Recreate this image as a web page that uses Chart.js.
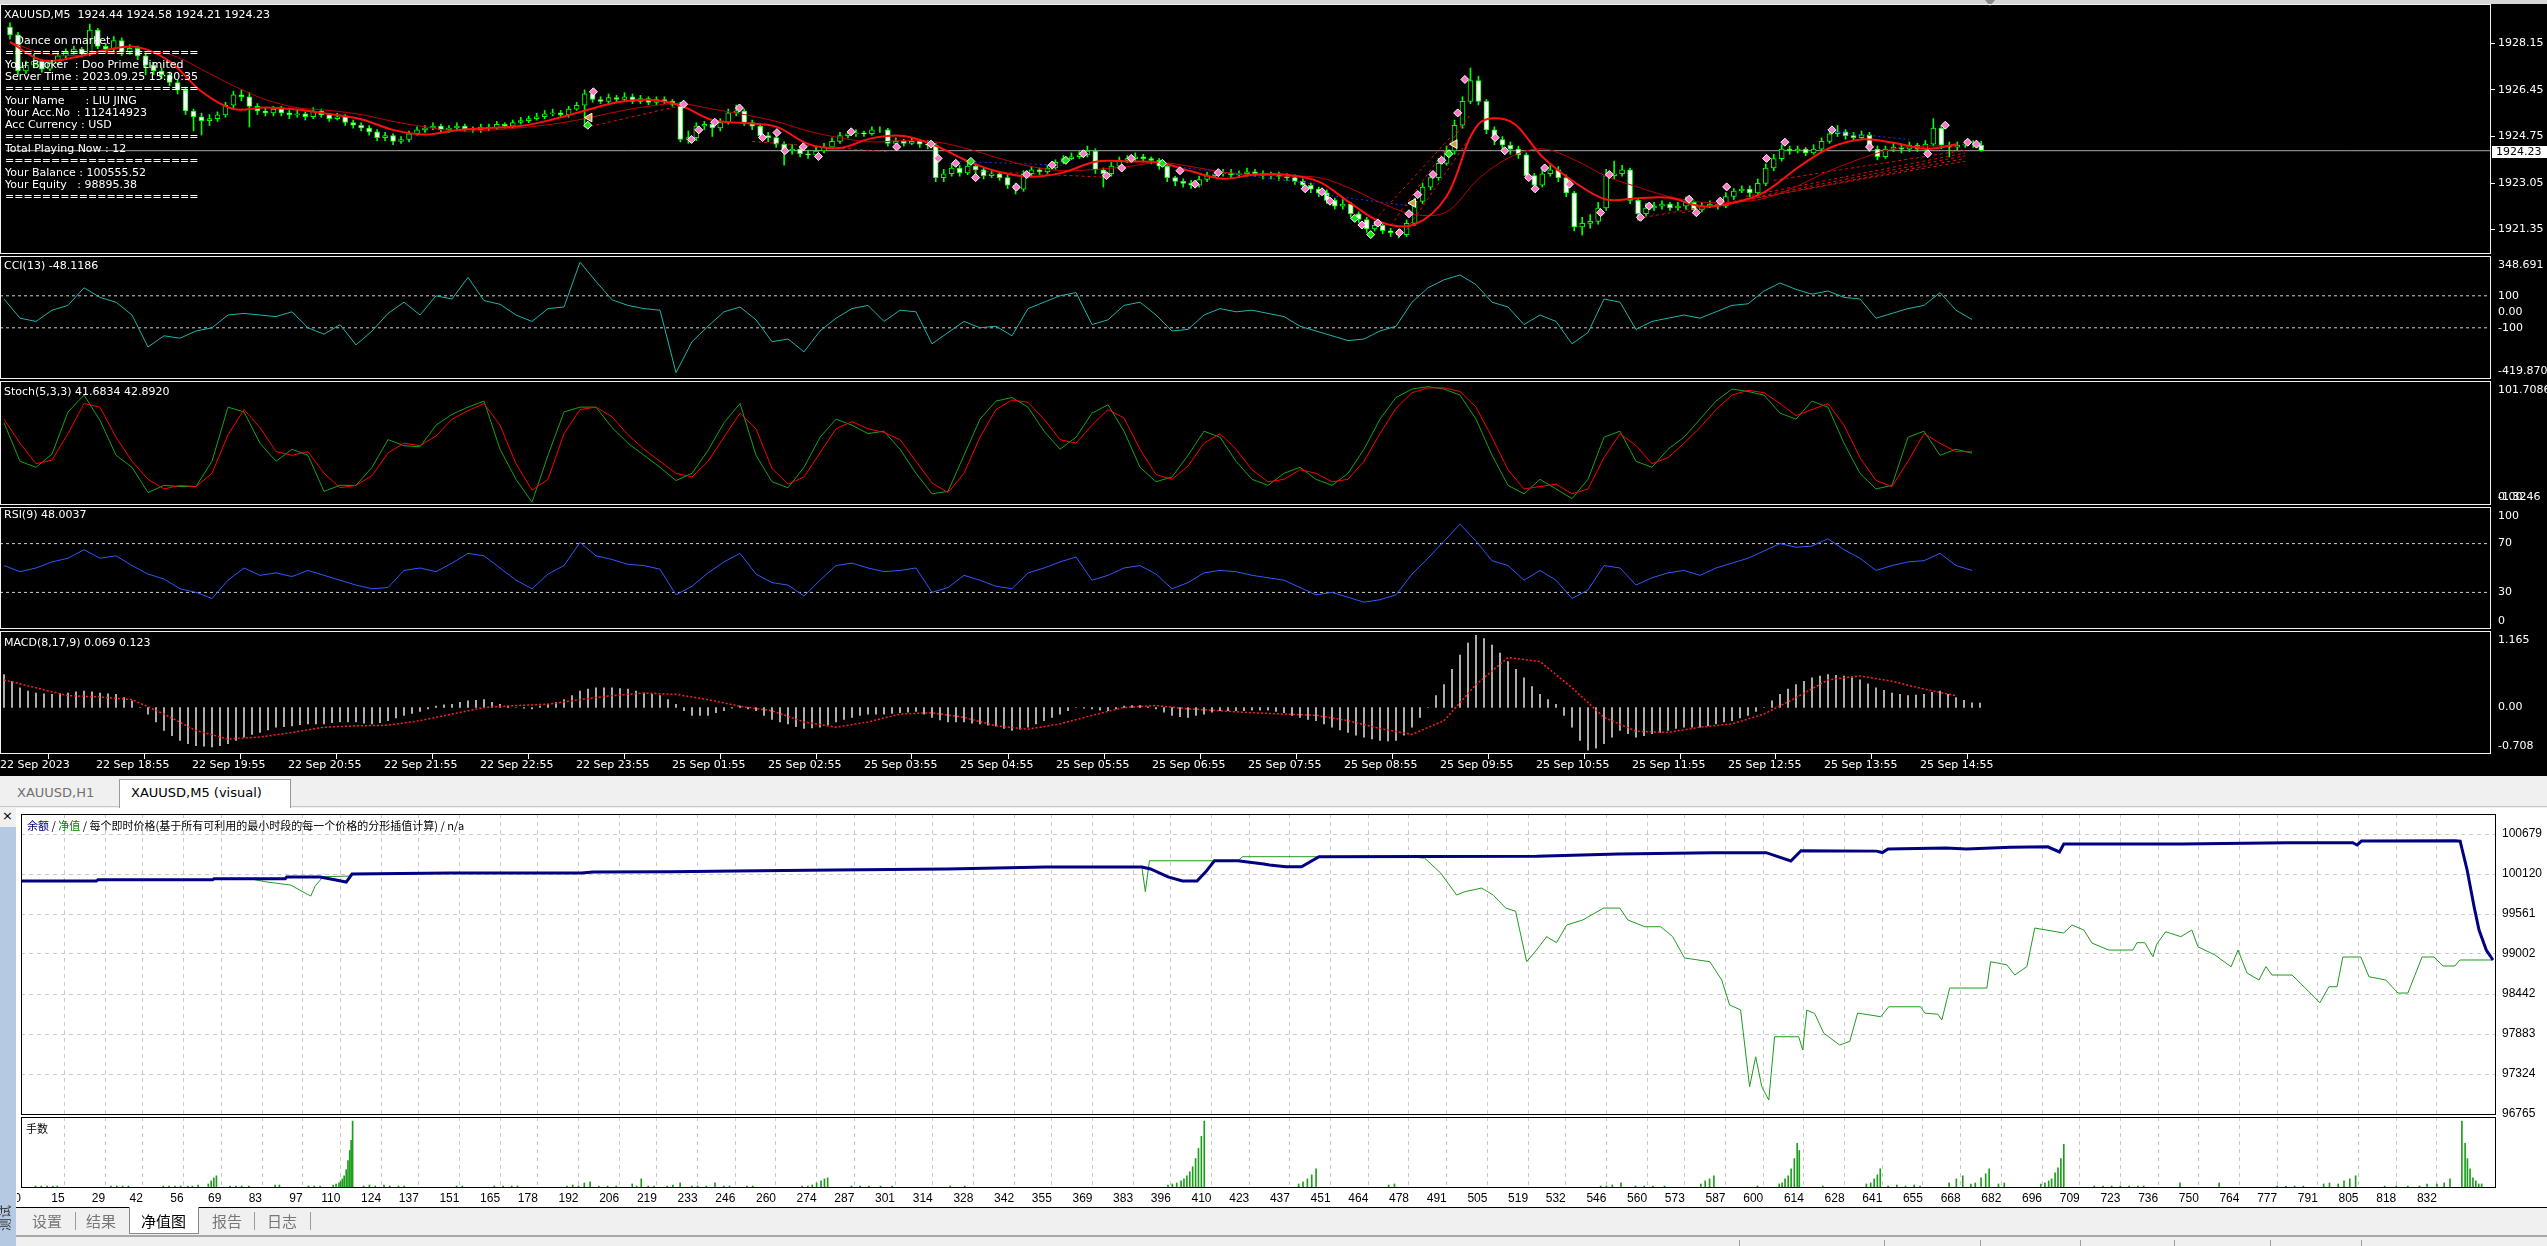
<!DOCTYPE html>
<html>
<head>
<meta charset="utf-8">
<title>XAUUSD,M5 (visual)</title>
<script src="https://cdn.jsdelivr.net/npm/chart.js@4.4.1/dist/chart.umd.min.js"></script>
<style>
  html, body { margin: 0; padding: 0; }
  body { width: 2547px; height: 1246px; overflow: hidden; position: relative; background: #f0f0f0; font-family: 'DejaVu Sans', sans-serif; }
  .box { position: absolute; box-sizing: border-box; }
  canvas { position: absolute; display: block; }
  .frame { position: absolute; box-sizing: border-box; border: 1px solid #f2f2f2; pointer-events: none; }
  .tframe { position: absolute; box-sizing: border-box; border: 1px solid #000; pointer-events: none; }
  .wtxt { position: absolute; color: #fff; font-size: 11px; line-height: 12px; white-space: pre; }
  .tab { position: absolute; font-size: 13px; line-height: 16px; white-space: pre; }
  .cjk { position: absolute; font-family: 'Noto Sans CJK SC', sans-serif; white-space: pre; }
</style>
</head>
<body>
<div class="box" style="left:0;top:0;width:2547px;height:776px;background:#000"></div>
<div class="box" style="left:0;top:0;width:2547px;height:4px;background:#d6d6d6"></div>
<div class="box" style="left:1985px;top:0;width:0;height:0;border-left:5px solid transparent;border-right:5px solid transparent;border-top:6px solid #8a8a8a"></div>
<div class="box" style="left:0;top:776px;width:2547px;height:31px;background:#f0f0f0;border-bottom:1px solid #c8c8c8"></div>
<div class="box" style="left:16px;top:808px;width:2531px;height:399px;background:#fff"></div>
<div class="box" style="left:0;top:827px;width:16px;height:419px;background:#b6c9e3"></div>

<div id="charts"></div>

<!-- pane frames of the terminal window -->
<div class="frame" style="left:0;top:4px;width:2491px;height:250px"></div>
<div class="frame" style="left:0;top:256px;width:2491px;height:123px"></div>
<div class="frame" style="left:0;top:381px;width:2491px;height:124px"></div>
<div class="frame" style="left:0;top:507px;width:2491px;height:122px"></div>
<div class="frame" style="left:0;top:631px;width:2491px;height:123px"></div>

<div class="wtxt" style="left:4px;top:9px">XAUUSD,M5  1924.44 1924.58 1924.21 1924.23</div>
<div class="wtxt" style="left:5px;top:35px">   Dance on market
=====================
Your Broker  : Doo Prime Limited
Server Time : 2023.09.25 15:30:35
=====================
Your Name      : LIU JING
Your Acc.No  : 112414923
Acc Currency : USD
=====================
Total Playing Now : 12
=====================
Your Balance : 100555.52
Your Equity   : 98895.38
=====================</div>
<div class="wtxt" style="left:4px;top:260px">CCI(13) -48.1186</div>
<div class="wtxt" style="left:4px;top:386px">Stoch(5,3,3) 41.6834 42.8920</div>
<div class="wtxt" style="left:4px;top:509px">RSI(9) 48.0037</div>
<div class="wtxt" style="left:4px;top:637px">MACD(8,17,9) 0.069 0.123</div>
<div class="box" style="left:2492px;top:146px;width:55px;height:12px;background:#fff;color:#000;font-size:11px;line-height:12px;padding-left:4px">1924.23</div>

<!-- tabs of the chart windows -->
<div class="tab" style="left:17px;top:785px;color:#707070">XAUUSD,H1</div>
<div class="box" style="left:119px;top:779px;width:172px;height:29px;background:#fff;border:1px solid #9a9a9a;border-bottom:none"></div>
<div class="tab" style="left:131px;top:785px;color:#000">XAUUSD,M5 (visual)</div>

<!-- tester graph -->
<div class="tframe" style="left:21px;top:814px;width:2475px;height:301px"></div>
<div class="tframe" style="left:21px;top:1117px;width:2475px;height:71px"></div>
<div class="cjk" style="left:27px;top:818px;font-size:11px;line-height:15px;color:#000"><span style="color:#000080">余额</span> / <span style="color:#008000">净值</span> / 每个即时价格(基于所有可利用的最小时段的每一个价格的分形插值计算) / n/a</div>
<div class="cjk" style="left:26px;top:1121px;font-size:11px;line-height:15px;color:#000">手数</div>
<div class="box" style="left:2px;top:808px;font-size:13px;line-height:16px;color:#000">×</div>
<div class="box" style="left:16px;top:1207px;width:2531px;height:1px;background:#000"></div>

<!-- bottom tabs -->
<div class="box" style="left:129px;top:1207px;width:70px;height:27px;background:#fff;border:1px solid #8a8a8a;border-top:none"></div>
<div class="cjk" style="left:32px;top:1212px;font-size:15px;line-height:18px;color:#777">设置</div>
<div class="box" style="left:75px;top:1212px;width:1px;height:18px;background:#9a9a9a"></div>
<div class="cjk" style="left:86px;top:1212px;font-size:15px;line-height:18px;color:#777">结果</div>
<div class="cjk" style="left:141px;top:1212px;font-size:15px;line-height:18px;color:#000">净值图</div>
<div class="cjk" style="left:212px;top:1212px;font-size:15px;line-height:18px;color:#777">报告</div>
<div class="box" style="left:254px;top:1212px;width:1px;height:18px;background:#9a9a9a"></div>
<div class="cjk" style="left:267px;top:1212px;font-size:15px;line-height:18px;color:#777">日志</div>
<div class="box" style="left:310px;top:1212px;width:1px;height:18px;background:#9a9a9a"></div>
<div class="cjk" style="left:-4px;top:1207px;font-size:13px;line-height:16px;color:#333;transform:rotate(-90deg);transform-origin:12px 12px">测试</div>
<div class="box" style="left:16px;top:1235px;width:2531px;height:2px;background:#a8a8a8"></div>
<div class="box" style="left:1739px;top:1240px;width:1px;height:6px;background:#a0a0a0"></div>
<div class="box" style="left:1884px;top:1240px;width:1px;height:6px;background:#a0a0a0"></div>
<div class="box" style="left:1980px;top:1240px;width:1px;height:6px;background:#a0a0a0"></div>
<div class="box" style="left:2080px;top:1240px;width:1px;height:6px;background:#a0a0a0"></div>
<div class="box" style="left:2174px;top:1240px;width:1px;height:6px;background:#a0a0a0"></div>
<div class="box" style="left:2270px;top:1240px;width:1px;height:6px;background:#a0a0a0"></div>
<div class="box" style="left:2361px;top:1240px;width:1px;height:6px;background:#a0a0a0"></div>

<script>
// ---------- XAUUSD M5 candles, one value per bar ----------
const candleOpen = [
  1928.74,1928.46,1927.14,1927.35,1927.49,1927.21,1927.42,1927.69,1927.83,1927.94,
  1927.76,1928.63,1928.04,1927.94,1928.25,1927.83,1927.97,1927.69,1927.35,1927.14,
  1927.00,1926.72,1926.44,1925.68,1925.47,1925.33,1925.40,1925.54,1925.89,1926.27,
  1926.20,1925.85,1925.68,1925.61,1925.75,1925.61,1925.54,1925.58,1925.47,1925.68,
  1925.54,1925.40,1925.47,1925.26,1925.16,1925.06,1924.92,1924.71,1924.78,1924.57,
  1924.64,1924.85,1924.99,1925.06,1925.13,1924.99,1925.06,1925.13,1925.02,1924.99,
  1925.09,1925.06,1925.19,1925.13,1925.26,1925.33,1925.40,1925.47,1925.58,1925.61,
  1925.54,1925.75,1925.89,1926.31,1926.10,1926.03,1926.17,1926.10,1926.20,1926.03,
  1926.13,1925.99,1926.10,1926.03,1925.92,1924.64,1924.71,1925.13,1925.19,1925.06,
  1925.26,1925.61,1925.68,1925.26,1925.13,1924.78,1924.71,1924.47,1924.22,1924.29,
  1924.12,1924.08,1924.22,1924.36,1924.57,1924.78,1924.85,1924.88,1924.85,1924.99,
  1924.99,1924.50,1924.57,1924.50,1924.57,1924.47,1924.43,1923.25,1923.39,1923.60,
  1923.42,1923.67,1923.53,1923.32,1923.39,1923.25,1922.97,1922.83,1923.39,1923.53,
  1923.46,1923.60,1923.81,1923.94,1924.01,1924.08,1924.22,1923.53,1923.39,1923.67,
  1923.88,1923.94,1924.01,1923.94,1923.88,1923.67,1923.25,1923.11,1923.04,1922.97,
  1923.18,1923.32,1923.39,1923.42,1923.35,1923.39,1923.46,1923.39,1923.32,1923.35,
  1923.29,1923.25,1923.11,1922.97,1922.83,1922.69,1922.42,1922.21,1922.28,1921.93,
  1921.72,1921.38,1921.51,1921.31,1921.24,1921.17,1921.58,1922.38,1922.90,1923.25,
  1923.77,1924.22,1925.16,1926.03,1926.79,1926.03,1924.99,1924.64,1924.43,1924.29,
  1924.08,1923.32,1922.97,1923.39,1923.53,1923.25,1922.69,1921.45,1921.58,1921.65,
  1922.14,1923.32,1923.39,1923.53,1922.42,1921.93,1922.14,1922.21,1922.28,1922.14,
  1922.21,1922.35,1922.07,1922.21,1922.28,1922.21,1922.56,1922.76,1922.83,1922.69,
  1923.04,1923.60,1923.94,1924.29,1924.22,1924.29,1924.15,1924.29,1924.57,1924.85,
  1924.92,1924.78,1924.71,1924.81,1924.29,1924.01,1924.29,1924.36,1924.29,1924.43,
  1924.29,1924.47,1925.06,1924.43,1924.36,1924.43,1924.47,1924.44
];
const candleHigh = [
  1928.90,1928.55,1927.50,1927.75,1927.55,1927.50,1927.80,1927.95,1928.05,1928.00,
  1928.85,1928.70,1928.15,1928.40,1928.35,1928.10,1928.05,1927.80,1927.45,1927.25,
  1927.10,1926.80,1926.55,1925.75,1925.60,1925.55,1925.65,1926.00,1926.40,1926.45,
  1926.35,1925.95,1925.80,1925.85,1925.85,1925.70,1925.70,1925.65,1925.80,1925.75,
  1925.60,1925.60,1925.55,1925.35,1925.25,1925.15,1925.00,1924.90,1924.85,1924.75,
  1924.95,1925.10,1925.15,1925.25,1925.20,1925.15,1925.25,1925.20,1925.10,1925.20,
  1925.20,1925.30,1925.25,1925.35,1925.45,1925.50,1925.60,1925.70,1925.75,1925.70,
  1925.85,1926.00,1926.45,1926.40,1926.20,1926.30,1926.25,1926.35,1926.30,1926.25,
  1926.20,1926.20,1926.20,1926.10,1926.00,1924.95,1925.25,1925.30,1925.30,1925.40,
  1925.75,1925.90,1925.75,1925.35,1925.20,1924.90,1924.80,1924.55,1924.45,1924.40,
  1924.25,1924.35,1924.50,1924.70,1924.90,1924.95,1925.00,1924.95,1925.10,1925.10,
  1925.05,1924.70,1924.65,1924.70,1924.65,1924.60,1924.50,1923.55,1923.75,1923.70,
  1923.80,1923.75,1923.60,1923.50,1923.45,1923.35,1923.05,1923.50,1923.65,1923.60,
  1923.70,1923.90,1924.05,1924.15,1924.20,1924.40,1924.30,1923.60,1923.80,1924.00,
  1924.05,1924.15,1924.10,1924.00,1923.95,1923.75,1923.30,1923.20,1923.15,1923.30,
  1923.45,1923.50,1923.55,1923.55,1923.50,1923.60,1923.55,1923.50,1923.45,1923.45,
  1923.40,1923.35,1923.20,1923.05,1922.90,1922.80,1922.50,1922.45,1922.35,1922.00,
  1921.80,1921.65,1921.60,1921.40,1921.35,1921.70,1922.50,1923.05,1923.40,1923.95,
  1924.40,1925.35,1926.20,1927.25,1926.95,1926.10,1925.10,1924.75,1924.55,1924.40,
  1924.15,1923.40,1923.55,1923.70,1923.65,1923.35,1922.75,1921.80,1921.90,1922.35,
  1923.55,1923.85,1923.70,1923.60,1922.50,1922.30,1922.35,1922.40,1922.35,1922.35,
  1922.55,1922.40,1922.35,1922.40,1922.40,1922.70,1922.85,1922.95,1922.95,1923.20,
  1923.75,1924.10,1924.45,1924.40,1924.40,1924.35,1924.45,1924.70,1925.00,1925.15,
  1925.00,1924.90,1924.95,1924.90,1924.40,1924.40,1924.50,1924.45,1924.55,1924.50,
  1924.60,1925.40,1925.15,1924.55,1924.55,1924.60,1924.60,1924.58
];
const candleLow = [
  1928.30,1927.00,1927.05,1927.25,1927.10,1927.15,1927.35,1927.60,1927.75,1927.65,
  1927.70,1927.95,1927.80,1927.85,1927.70,1927.75,1927.55,1927.00,1927.00,1926.85,
  1926.60,1926.30,1925.55,1924.95,1924.80,1925.15,1925.30,1925.45,1925.80,1926.05,
  1925.10,1925.55,1925.50,1925.50,1925.50,1925.40,1925.45,1925.35,1925.40,1925.45,
  1925.30,1925.35,1925.15,1925.05,1924.95,1924.80,1924.60,1924.60,1924.45,1924.50,
  1924.55,1924.80,1924.90,1925.00,1924.90,1924.90,1925.00,1924.95,1924.90,1924.90,
  1924.95,1925.00,1925.05,1925.05,1925.20,1925.25,1925.35,1925.40,1925.50,1925.45,
  1925.45,1925.70,1925.10,1926.00,1925.95,1925.95,1926.00,1926.05,1925.95,1925.95,
  1925.90,1925.90,1925.95,1925.85,1924.55,1924.50,1924.60,1925.00,1924.75,1924.95,
  1925.20,1925.50,1925.15,1925.00,1924.65,1924.55,1924.35,1923.70,1924.10,1924.00,
  1923.95,1924.00,1924.15,1924.30,1924.50,1924.70,1924.75,1924.75,1924.80,1924.90,
  1924.40,1924.40,1924.40,1924.45,1924.35,1924.30,1923.10,1923.10,1923.30,1923.30,
  1923.35,1923.40,1923.20,1923.25,1923.15,1922.85,1922.65,1922.75,1923.30,1923.35,
  1923.40,1923.55,1923.75,1923.90,1923.95,1924.00,1923.40,1922.90,1923.30,1923.60,
  1923.80,1923.85,1923.85,1923.75,1923.55,1923.10,1922.95,1922.90,1922.85,1922.90,
  1923.10,1923.25,1923.30,1923.25,1923.25,1923.30,1923.30,1923.20,1923.20,1923.15,
  1923.15,1923.00,1922.85,1922.70,1922.55,1922.30,1922.10,1922.10,1921.80,1921.60,
  1921.25,1921.30,1921.20,1921.10,1921.05,1921.10,1921.50,1922.30,1922.80,1923.15,
  1923.70,1924.10,1925.05,1925.95,1925.90,1924.85,1924.45,1924.25,1924.10,1923.95,
  1923.20,1922.80,1922.90,1923.30,1923.10,1922.55,1921.30,1921.15,1921.40,1921.55,
  1922.05,1923.20,1923.30,1922.30,1921.70,1921.85,1922.05,1922.10,1922.05,1922.05,
  1922.10,1921.95,1922.00,1922.15,1922.10,1922.15,1922.45,1922.70,1922.55,1922.60,
  1922.95,1923.50,1923.85,1924.10,1924.15,1924.05,1924.10,1924.20,1924.50,1924.75,
  1924.65,1924.60,1924.65,1924.20,1923.90,1923.95,1924.20,1924.15,1924.20,1924.20,
  1924.20,1924.40,1924.30,1924.00,1924.25,1924.35,1924.35,1924.21
];
const candleClose = [
  1928.46,1927.14,1927.35,1927.49,1927.21,1927.42,1927.69,1927.83,1927.94,1927.76,
  1928.63,1928.04,1927.94,1928.25,1927.83,1927.97,1927.69,1927.35,1927.14,1927.00,
  1926.72,1926.44,1925.68,1925.47,1925.33,1925.40,1925.54,1925.89,1926.27,1926.20,
  1925.85,1925.68,1925.61,1925.75,1925.61,1925.54,1925.58,1925.47,1925.68,1925.54,
  1925.40,1925.47,1925.26,1925.16,1925.06,1924.92,1924.71,1924.78,1924.57,1924.64,
  1924.85,1924.99,1925.06,1925.13,1924.99,1925.06,1925.13,1925.02,1924.99,1925.09,
  1925.06,1925.19,1925.13,1925.26,1925.33,1925.40,1925.47,1925.58,1925.61,1925.54,
  1925.75,1925.89,1926.31,1926.10,1926.03,1926.17,1926.10,1926.20,1926.03,1926.13,
  1925.99,1926.10,1926.03,1925.92,1924.64,1924.71,1925.13,1925.19,1925.06,1925.26,
  1925.61,1925.68,1925.26,1925.13,1924.78,1924.71,1924.47,1924.22,1924.29,1924.12,
  1924.08,1924.22,1924.36,1924.57,1924.78,1924.85,1924.88,1924.85,1924.99,1924.99,
  1924.50,1924.57,1924.50,1924.57,1924.47,1924.43,1923.25,1923.39,1923.60,1923.42,
  1923.67,1923.53,1923.32,1923.39,1923.25,1922.97,1922.83,1923.39,1923.53,1923.46,
  1923.60,1923.81,1923.94,1924.01,1924.08,1924.22,1923.53,1923.39,1923.67,1923.88,
  1923.94,1924.01,1923.94,1923.88,1923.67,1923.25,1923.11,1923.04,1922.97,1923.18,
  1923.32,1923.39,1923.42,1923.35,1923.39,1923.46,1923.39,1923.32,1923.35,1923.29,
  1923.25,1923.11,1922.97,1922.83,1922.69,1922.42,1922.21,1922.28,1921.93,1921.72,
  1921.38,1921.51,1921.31,1921.24,1921.17,1921.58,1922.38,1922.90,1923.25,1923.77,
  1924.22,1925.16,1926.03,1926.79,1926.03,1924.99,1924.64,1924.43,1924.29,1924.08,
  1923.32,1922.97,1923.39,1923.53,1923.25,1922.69,1921.45,1921.58,1921.65,1922.14,
  1923.32,1923.39,1923.53,1922.42,1921.93,1922.14,1922.21,1922.28,1922.14,1922.21,
  1922.35,1922.07,1922.21,1922.28,1922.21,1922.56,1922.76,1922.83,1922.69,1923.04,
  1923.60,1923.94,1924.29,1924.22,1924.29,1924.15,1924.29,1924.57,1924.85,1924.92,
  1924.78,1924.71,1924.81,1924.29,1924.01,1924.29,1924.36,1924.29,1924.43,1924.29,
  1924.47,1925.06,1924.43,1924.36,1924.43,1924.47,1924.47,1924.23
];
const timeLabels = ['22 Sep 2023','22 Sep 18:55','22 Sep 19:55','22 Sep 20:55','22 Sep 21:55','22 Sep 22:55','22 Sep 23:55',
  '25 Sep 01:55','25 Sep 02:55','25 Sep 03:55','25 Sep 04:55','25 Sep 05:55','25 Sep 06:55','25 Sep 07:55','25 Sep 08:55',
  '25 Sep 09:55','25 Sep 10:55','25 Sep 11:55','25 Sep 12:55','25 Sep 13:55','25 Sep 14:55'];
const barsPerLabel = 12;

// moving averages on the price chart, one value every 4 bars
const maStep = 4;
const maFast = [
  1928.20,1927.53,1927.63,1927.91,1928.01,1927.49,1926.39,1925.75,1925.81,1925.73,
  1925.57,1925.38,1924.99,1924.82,1924.98,1925.06,1925.13,1925.37,1925.69,1925.99,
  1926.09,1925.88,1925.35,1925.24,1925.11,1924.48,1924.33,1924.69,1924.77,1924.41,
  1923.85,1923.45,1923.28,1923.44,1923.83,1923.84,1923.80,1923.48,1923.21,1923.36,
  1923.35,1923.10,1922.31,1921.60,1921.54,1922.56,1925.20,1925.30,1924.01,1923.09,
  1922.45,1922.50,1922.51,1922.20,1922.33,1922.75,1923.61,1924.33,1924.64,1924.52,
  1924.30,1924.47
];
const maSlow = [
  1928.20,1927.80,1927.70,1927.80,1927.85,1927.75,1927.20,1926.60,1926.10,1925.80,
  1925.70,1925.55,1925.30,1925.10,1924.95,1924.98,1925.07,1925.20,1925.40,1925.65,
  1925.85,1925.95,1925.75,1925.55,1925.30,1924.95,1924.70,1924.55,1924.60,1924.55,
  1924.30,1923.95,1923.65,1923.50,1923.55,1923.65,1923.80,1923.65,1923.45,1923.35,
  1923.30,1923.25,1922.85,1922.30,1921.90,1922.00,1923.20,1924.00,1924.30,1923.90,
  1923.30,1922.90,1922.55,1922.35,1922.35,1922.50,1922.95,1923.50,1923.95,1924.30,
  1924.40,1924.40
];

// trade arrows drawn by the EA (bar index, price)
const pinkArrowBar = [73.1,84.4,85.4,86.3,88.3,91.4,94.3,96.1,97.1,99.4,101.3,105.4,111.1,115.4,116.3,118.5,121,126.1,127.4,130.6,
  134.5,137.4,139.3,140.5,146.6,148.5,151.4,162.3,164.4,165.4,169.4,171.4,174.1,175.3,176.4,178.3,179.4,181.4,182.3,186.1,
  187.3,190.3,191.1,192.3,195.4,199.3,200.4,204.3,205.4,210.4,211.3,214.3,215.1,220.1,222.4,228.3,233,240.3,242.5,245.3,246.4];
const pinkArrowPrice = [1926.38,1925.93,1924.64,1924.99,1925.27,1925.79,1924.71,1924.89,1924.23,1924.37,1924.02,1924.92,1924.37,1924.47,1923.95,1923.77,1923.25,1922.90,1923.36,1923.71,
  1924.12,1923.32,1923.60,1923.95,1923.50,1923.01,1923.43,1922.84,1922.73,1922.39,1921.52,1921.59,1921.24,1921.93,1922.63,1923.36,1923.88,1925.61,1926.83,1924.71,
  1924.23,1923.25,1922.84,1923.60,1923.01,1921.97,1923.36,1921.80,1922.21,1922.46,1921.97,1922.39,1922.91,1923.95,1924.54,1924.99,1924.37,1924.12,1925.16,1924.54,1924.47];
const greenArrowBar = [72.4,120.4,132.3,144.4,168.5,170.5,180.3];
const greenArrowPrice = [1925.16,1923.84,1923.88,1923.77,1921.76,1921.17,1924.12];
const closeArrowBar = [72.6,175.8,181];
const closeArrowPrice = [1925.44,1922.32,1924.47];
// order lines: [open bar, open price, last bar, last price]
const buyOrderLines = [
  [72,1925.07,84,1925.87],[93,1924.57,110,1924.19],[120,1923.50,138,1923.25],
  [171,1921.70,182,1925.20],[173,1921.50,183,1925.55],[175,1921.35,183.5,1924.95],
  [204,1921.76,245,1923.85],[209.5,1921.97,245,1923.95],[213,1922.21,245,1924.05],[217.5,1922.56,245,1924.15],[221,1923.15,245,1924.25]
];
const sellOrderLines = [
  [119,1923.84,132,1923.70],[144.6,1923.70,163.7,1923.01],[163.7,1922.66,175.5,1922.21],[228.5,1924.92,238,1924.64]
];

// indicator windows, one value every 2 bars
const indStep = 2;
const cciValues = [
  80,-40,-60,10,40,150,90,60,-20,-220,
  -150,-165,-120,-100,-20,-10,-20,-30,0,-100,
  -140,-80,-207,-120,-10,60,-20,100,80,215,
  70,47,-20,-60,20,30,310,190,75,40,
  20,10,-380,-187,-90,0,30,-50,-187,-170,
  -250,-120,-40,20,40,-60,10,0,-200,-130,
  -60,-100,-90,-150,20,60,100,120,-80,-50,
  40,60,-20,-120,-110,-20,20,0,10,-10,
  -30,-90,-120,-150,-180,-170,-120,-90,60,150,
  200,230,170,60,30,-80,-20,-60,-200,-130,
  80,60,-110,-60,-40,-20,-40,0,40,50,
  130,180,140,110,130,90,80,-40,-10,20,
  40,120,10,-48.12
];
const stochMain = [
  67,35,30,41,76,90,69,40,30,9,
  15,14,14,35,80,76,50,35,45,40,
  10,15,15,30,53,48,47,65,74,80,
  85,45,20,1,40,76,80,80,63,50,
  40,30,19,25,44,67,83,40,18,13,
  30,55,70,65,58,60,45,25,8,10,
  40,70,85,88,80,60,45,55,75,82,
  60,30,18,22,40,60,55,35,20,15,
  25,30,20,15,25,45,70,88,95,97,
  95,90,70,40,15,8,20,12,4,20,
  55,60,35,30,45,55,70,85,95,93,
  90,75,70,85,80,50,25,12,15,55,
  60,40,45,41.68
];
const stochSignal = [
  70,50,33,36,58,83,80,55,35,20,
  12,15,14,25,57,78,63,43,40,43,
  25,13,15,23,42,50,48,56,70,77,
  83,65,33,11,20,58,78,80,72,57,
  45,35,25,22,35,55,75,62,29,16,
  22,42,62,68,62,59,53,35,17,9,
  25,55,78,86,84,70,53,50,65,78,
  71,45,24,20,31,50,58,45,28,18,
  20,28,25,18,20,35,58,79,92,96,
  96,93,80,55,28,12,14,16,8,12,
  38,58,48,33,38,50,63,78,90,94,
  92,83,73,78,83,65,38,19,14,35,
  58,50,43,42.89
];
const rsiValues = [
  52,47,50,55,58,65,58,60,52,45,
  41,33,30,25,40,50,44,46,43,48,
  44,40,36,33,34,48,50,47,54,62,
  60,50,40,33,45,52,71,60,57,53,
  52,49,28,35,46,55,62,45,38,36,
  27,40,52,54,50,47,48,50,30,34,
  44,40,35,33,46,50,55,59,40,44,
  50,52,45,33,38,46,48,47,44,42,
  40,34,28,30,26,22,24,28,45,58,
  72,86,72,56,52,40,48,40,25,32,
  52,50,36,42,46,48,44,50,54,58,
  64,70,67,68,74,65,58,48,52,55,
  56,62,52,48.0
];
// MACD main value as histogram, one value per bar
const macdHist = [
  0.50,0.40,0.30,0.25,0.22,0.21,0.20,0.21,0.22,0.24,
  0.25,0.24,0.22,0.21,0.20,0.15,0.10,0.00,-0.10,-0.22,
  -0.35,-0.43,-0.50,-0.55,-0.58,-0.59,-0.60,-0.58,-0.55,-0.50,
  -0.45,-0.41,-0.38,-0.34,-0.30,-0.29,-0.28,-0.26,-0.25,-0.25,
  -0.25,-0.23,-0.22,-0.22,-0.22,-0.24,-0.25,-0.23,-0.20,-0.16,
  -0.12,-0.09,-0.06,-0.02,0.02,0.04,0.05,0.08,0.10,0.11,
  0.12,0.08,0.05,0.02,0.00,-0.01,-0.02,0.02,0.05,0.08,
  0.12,0.18,0.25,0.28,0.30,0.30,0.30,0.29,0.28,0.25,
  0.22,0.20,0.18,0.12,0.05,-0.05,-0.12,-0.12,-0.12,-0.08,
  -0.05,-0.01,0.02,-0.02,-0.05,-0.12,-0.18,-0.22,-0.25,-0.29,
  -0.32,-0.31,-0.30,-0.26,-0.22,-0.18,-0.15,-0.12,-0.10,-0.10,
  -0.10,-0.09,-0.08,-0.07,-0.06,-0.10,-0.15,-0.19,-0.22,-0.22,
  -0.22,-0.24,-0.25,-0.27,-0.28,-0.32,-0.35,-0.33,-0.30,-0.25,
  -0.20,-0.15,-0.10,-0.05,0.00,-0.01,-0.02,-0.04,-0.05,-0.02,
  0.02,0.03,0.03,0.01,-0.02,-0.07,-0.12,-0.14,-0.15,-0.12,
  -0.10,-0.07,-0.05,-0.05,-0.05,-0.05,-0.04,-0.04,-0.04,-0.06,
  -0.08,-0.12,-0.15,-0.18,-0.20,-0.25,-0.30,-0.34,-0.38,-0.42,
  -0.45,-0.48,-0.50,-0.51,-0.50,-0.42,-0.30,-0.15,0.00,0.18,
  0.35,0.58,0.80,0.98,1.10,1.05,0.95,0.83,0.70,0.58,
  0.45,0.32,0.20,0.12,0.05,-0.12,-0.30,-0.50,-0.65,-0.62,
  -0.55,-0.45,-0.35,-0.40,-0.45,-0.43,-0.40,-0.38,-0.35,-0.32,
  -0.30,-0.30,-0.30,-0.28,-0.25,-0.22,-0.20,-0.16,-0.12,-0.06,
  0.00,0.10,0.20,0.28,0.35,0.40,0.45,0.48,0.50,0.49,
  0.48,0.45,0.42,0.36,0.30,0.26,0.22,0.20,0.18,0.19,
  0.20,0.23,0.25,0.20,0.15,0.11,0.07,0.069
];
// MACD signal line, one value every 4 bars
const macdSignal = [
  0.42,0.30,0.18,0.16,0.12,-0.10,-0.35,-0.48,-0.45,-0.38,
  -0.30,-0.28,-0.27,-0.20,-0.10,0.00,0.03,0.05,0.12,0.18,
  0.22,0.20,0.12,0.02,-0.05,-0.22,-0.30,-0.22,-0.10,-0.08,
  -0.15,-0.28,-0.33,-0.25,-0.12,0.00,0.03,-0.02,-0.05,-0.08,
  -0.10,-0.12,-0.20,-0.32,-0.41,-0.20,0.35,0.76,0.70,0.30,
  -0.15,-0.36,-0.38,-0.30,-0.25,-0.10,0.15,0.42,0.48,0.40,
  0.28,0.18
];

// axis labels and levels of the terminal panes
const priceTicks = [1928.15, 1926.45, 1924.75, 1923.05, 1921.35];
const cciLevels = [100, -100];
const cciTicks = [348.691, 100, 0, -100, -419.8709];
const cciTickText = ['348.691', '100', '0.00', '-100', '-419.8709'];
const stochTicks = [101.7086, -1.3246, 0];
const stochTickText = ['101.7086', '-1.3246', '0.00'];
const rsiLevels = [70, 30];
const rsiTicks = [100, 70, 30, 0];
const rsiTickText = ['100', '70', '30', '0'];
const macdTicks = [1.165, 0, -0.708];
const macdTickText = ['1.165', '0.00', '-0.708'];

// ---------- strategy tester graph ----------
const balanceX = [0,26,26.5,66,66.5,91,91.5,103,108,112,
  114,148,193,197,224,246,280,319,353,386,
  389,395,400,405,408,411,419,428,430,435.5,
  441,447,522,550,583,601,609.5,613,639,641,
  643,663,670,685,698,702,703.5,744,780.7,803,
  804.5,806,838,840,842.4,844.8,846.5,849,851.3];
const balanceY = [100022,100022,100040,100040,100054,100054,100078,100078,100040,100008,
  100120,100134,100134,100148,100152,100162,100176,100190,100218,100218,
  100190,100080,100022,100022,100150,100305,100305,100260,100246,100222,
  100222,100362,100370,100400,100418,100418,100302,100446,100440,100420,
  100470,100483,100470,100493,100500,100428,100539,100539,100558,100558,
  100525,100581,100585,100580,100176,99663,99337,99057,98918];
const equityX = [0,26,26.5,66,66.5,78.9,84.4,92.8,99.8,101.3,
  104,113.7,114,148,193,197,224,246,280,319,
  353,386,387.2,388.6,419,420.7,477.5,483.4,488.9,494.4,
  497,503,507,511.3,514.7,518.5,521.9,525.4,528.8,532.3,
  537.8,545,550.6,553.4,559.2,564.7,568.8,572.9,581.6,585.7,
  588.4,592.2,595.3,597.4,599.5,601.9,603.9,612.2,613.6,615,
  617.7,620.8,626.3,629.8,632.5,640.5,643.2,654.2,655.6,660.1,
  661.5,664.2,677,678.3,683.9,686.6,690.8,693.5,703.5,706.3,
  710.4,713.2,719,727.3,728.7,731.4,734.2,735.5,738.6,743.8,
  747.6,749.7,755.5,761.1,763.5,766.6,770.7,773.1,775.2,782.1,
  786.2,791.7,794.8,797.6,799.6,805.8,808.6,814.4,818.6,822,
  826.9,831,834.1,838.2,839.9,851.3];
const equityY = [100022,100022,100040,100040,100054,100054,100010,99966,99812,99950,
  100082,100092,100120,100134,100134,100148,100152,100162,100176,100190,
  100218,100218,99873,100305,100305,100362,100362,100342,100134,99826,
  99870,99924,99826,99644,99600,98894,99057,99244,99160,99407,
  99477,99644,99644,99477,99383,99383,99244,98946,98894,98638,
  98290,98220,97146,97565,97146,96960,97845,97845,97659,98218,
  98170,97897,97729,97780,98176,98125,98264,98264,98176,98160,
  98079,98526,98526,98894,98850,98708,98826,99365,99295,99407,
  99337,99155,99057,99057,99160,99160,98964,99140,99313,99244,
  99337,99103,98990,98823,99057,98736,98638,98826,98708,98708,
  98544,98320,98544,98544,98960,98960,98684,98638,98456,98456,
  98960,98960,98834,98834,98918,98918];
const equityTicks = [100679, 100120, 99561, 99002, 98442, 97883, 97324, 96765];
const dealTicks = [0,15,29,42,56,69,83,97,110,124,137,151,165,178,192,206,219,233,246,260,274,287,301,314,328,
  342,355,369,383,396,410,423,437,451,464,478,491,505,519,532,546,560,573,587,600,614,628,641,655,668,682,696,
  709,723,736,750,764,777,791,805,818,832];
const lotsX = [5,7,9,11,12.5,31,33,35,37,49,51,53,55,57.5,59,61,64.5,65.5,66.4,67.3,
  72,74,76,78.5,87.5,89,99,101,103,107.5,108.5,109.5,110.1,110.7,111.3,112,112.6,113.2,113.7,114.2,
  118,120,122,125,127,130,132,150,152,163,166,169,171,188,190,192,194,196,199,202,205,
  210.5,212,213.6,216,218,222.5,224.5,227,231,233,236,239,242,244,250,252,
  269,271,272.5,274,275.5,276.7,277.8,286,289,292,296,300,320,325,
  395,396.5,398,399.5,400.5,401.5,402.5,403.5,404.5,405.5,406.5,407.5,
  440,441.5,443,444.5,446,471,473,
  544,546,548,551,556,559,562,566,578.5,580,581.5,583,598,
  605.5,606.5,607.5,608.6,609.6,610.7,611.7,612.4,620.5,
  635.5,637,638.2,639.3,640.3,643,646,649,652,654,664,666.5,668.7,
  671.5,673,675,676.6,677.8,681,683,
  695.6,697,698.3,699.3,700.5,701.5,702.5,703.5,714,717,720,723,726,729,731,743.5,757,
  777,780,783,786,793,795,798,800,802,804,814,818,822,826,828.6,832,834.5,836.5,
  840.6,841.7,842.5,843.4,844.4,845.4,846.4,847.4];
const lotsY = [0.01,0.01,0.01,0.01,0.01,0.01,0.01,0.01,0.01,0.01,0.01,0.01,0.01,0.01,0.01,0.02,0.03,0.06,0.09,0.11,
  0.01,0.01,0.01,0.01,0.02,0.02,0.01,0.01,0.01,0.02,0.03,0.04,0.06,0.08,0.11,0.17,0.26,0.36,0.46,0.65,
  0.01,0.02,0.01,0.02,0.01,0.01,0.01,0.01,0.01,0.01,0.01,0.01,0.01,0.01,0.02,0.01,0.04,0.05,0.01,0.01,0.01,
  0.03,0.01,0.08,0.01,0.01,0.01,0.02,0.04,0.01,0.01,0.01,0.04,0.01,0.01,0.01,0.01,
  0.01,0.01,0.02,0.04,0.06,0.08,0.09,0.01,0.01,0.01,0.01,0.01,0.01,0.01,
  0.02,0.03,0.04,0.06,0.08,0.11,0.15,0.20,0.28,0.38,0.50,0.65,
  0.03,0.05,0.08,0.12,0.18,0.02,0.03,
  0.01,0.01,0.02,0.04,0.01,0.01,0.01,0.01,0.03,0.06,0.08,0.11,0.01,
  0.03,0.04,0.08,0.11,0.18,0.28,0.43,0.36,0.01,
  0.03,0.04,0.08,0.12,0.18,0.01,0.02,0.01,0.02,0.01,0.04,0.08,0.11,
  0.03,0.04,0.09,0.13,0.18,0.03,0.04,
  0.03,0.04,0.06,0.08,0.14,0.19,0.28,0.42,0.01,0.01,0.01,0.01,0.01,0.01,0.01,0.04,0.04,
  0.01,0.01,0.01,0.01,0.03,0.04,0.03,0.06,0.08,0.11,0.01,0.01,0.01,0.01,0.03,0.03,0.04,0.08,
  0.65,0.43,0.28,0.18,0.09,0.06,0.03,0.03];

// ---------- helpers ----------
Chart.defaults.font.family = 'DejaVu Sans';
const xMin = -0.5, xMax = 310.875;   // 8 px per bar over the 2491 px wide pane
const paneFont = { family: 'DejaVu Sans', size: 11 };

function addCanvas(left, top, width, height) {
  const c = document.createElement('canvas');
  c.width = width; c.height = height;
  c.style.left = left + 'px'; c.style.top = top + 'px';
  c.style.width = width + 'px'; c.style.height = height + 'px';
  document.getElementById('charts').appendChild(c);
  return c.getContext('2d');
}

// right price scale of a terminal pane; edge labels are kept inside the pane
function paneAxis(min, max, ticks, text, paneH, withMarks) {
  return {
    position: 'right', min: min, max: max,
    afterFit(s) { s.width = 56; s.paddingTop = 0; s.paddingBottom = 0; },
    afterBuildTicks(s) {
      const perPx = (max - min) / paneH;
      s.ticks = ticks.map(v => {
        if ((max - v) / perPx < 9) return { value: max - 9 * perPx };
        if ((v - min) / perPx < 8) return { value: min + 8 * perPx };
        return { value: v };
      });
    },
    ticks: { color: '#fff', font: paneFont, padding: 3, autoSkip: false, callback: (v, i) => text[i] },
    grid: { display: withMarks, drawOnChartArea: false, drawTicks: true, tickLength: 4, tickColor: '#fff', color: '#fff' },
    border: { display: false }
  };
}

function hiddenX() {
  return { type: 'linear', min: xMin, max: xMax, display: false, offset: false };
}

function paneOptions(yAxis, xAxis) {
  return {
    responsive: false, animation: false, events: [],
    layout: { padding: 0 },
    plugins: { legend: { display: false }, tooltip: { enabled: false } },
    scales: { x: xAxis || hiddenX(), y: yAxis }
  };
}

function series(values, step, color, width, dash) {
  return {
    type: 'line', data: values.map((v, k) => ({ x: k * step, y: v })),
    borderColor: color, borderWidth: width, borderDash: dash || [],
    pointRadius: 0, tension: 0, fill: false
  };
}

function level(v) {
  return {
    type: 'line', data: [{ x: xMin, y: v }, { x: xMax, y: v }],
    borderColor: '#cfcfcf', borderWidth: 1, borderDash: [3, 3], pointRadius: 0, fill: false
  };
}

function orderLine(o, color, dash) {
  return {
    type: 'line', data: [{ x: o[0], y: o[1] }, { x: o[2], y: o[3] }],
    borderColor: color, borderWidth: 1, borderDash: dash, pointRadius: 0, fill: false
  };
}

function arrows(bars, prices, style, fill, rotation, radius) {
  return {
    type: 'line', showLine: false,
    data: bars.map((b, i) => ({ x: b, y: prices[i] })),
    pointStyle: style, pointRadius: radius, pointRotation: rotation,
    pointBackgroundColor: fill, pointBorderColor: '#ffffff', pointBorderWidth: 1
  };
}

// ---------- main price window ----------
const lastClose = candleClose[candleClose.length - 1];
new Chart(addCanvas(0, 4, 2547, 250), {
  type: 'bar',
  data: {
    datasets: [
      arrows(pinkArrowBar, pinkArrowPrice, 'rectRot', '#ff78c8', 0, 4),
      arrows(greenArrowBar, greenArrowPrice, 'rectRot', '#18e018', 0, 4),
      arrows(closeArrowBar, closeArrowPrice, 'triangle', '#d89a40', 270, 5),
      Object.assign(series(maFast, maStep, '#ff1010', 2), { tension: 0.35 }),
      Object.assign(series(maSlow, maStep, '#c00000', 1), { tension: 0.35 })
    ].concat(
      buyOrderLines.map(o => orderLine(o, '#e01010', [3, 3])),
      sellOrderLines.map(o => orderLine(o, '#2030ff', [2, 3])),
      [
        {
          type: 'bar', grouped: false, barThickness: 5, borderSkipped: false,
          data: candleOpen.map((o, i) => ({ x: i, y: [o, candleClose[i]] })),
          backgroundColor: candleClose.map((c, i) => c < candleOpen[i] ? '#ffffff' : '#000000'),
          borderColor: '#00ff00', borderWidth: 1
        },
        {
          type: 'bar', grouped: false, barThickness: 1,
          data: candleHigh.map((h, i) => ({ x: i, y: [candleLow[i], h] })),
          backgroundColor: '#00ff00'
        },
        {
          type: 'line', data: [{ x: xMin, y: lastClose }, { x: xMax, y: lastClose }],
          borderColor: '#a8a8a8', borderWidth: 1, pointRadius: 0
        }
      ]
    )
  },
  options: paneOptions(paneAxis(1920.68, 1929.365, priceTicks, priceTicks.map(v => v.toFixed(2)), 250, true))
});

// ---------- CCI(13) ----------
new Chart(addCanvas(0, 256, 2547, 123), {
  type: 'line',
  data: { datasets: [series(cciValues, indStep, '#20b2aa', 1)].concat(cciLevels.map(level)) },
  options: paneOptions(paneAxis(-419.8709, 348.691, cciTicks, cciTickText, 123, false))
});

// ---------- Stoch(5,3,3) ----------
new Chart(addCanvas(0, 381, 2547, 124), {
  type: 'line',
  data: { datasets: [series(stochSignal, indStep, '#ff0000', 1), series(stochMain, indStep, '#17a317', 1)] },
  options: paneOptions(paneAxis(-1.3246, 101.7086, stochTicks, stochTickText, 124, false))
});

// ---------- RSI(9) ----------
new Chart(addCanvas(0, 507, 2547, 122), {
  type: 'line',
  data: { datasets: [series(rsiValues, indStep, '#3057ff', 1)].concat(rsiLevels.map(level)) },
  options: paneOptions(paneAxis(0, 100, rsiTicks, rsiTickText, 122, false))
});

// ---------- MACD(8,17,9) with the time scale below ----------
const timeAxis = {
  type: 'linear', min: xMin, max: xMax, position: 'bottom', offset: false,
  afterBuildTicks(s) { s.ticks = timeLabels.map((_, k) => ({ value: k * barsPerLabel - 0.5 })); },
  afterFit(s) { s.height = 22; s.paddingLeft = 0; s.paddingRight = 0; },
  ticks: { color: '#fff', font: paneFont, align: 'start', autoSkip: false, maxRotation: 0, padding: 0, callback: (v, i) => timeLabels[i] },
  grid: { drawOnChartArea: false, drawTicks: true, tickLength: 5, tickColor: '#fff', color: '#fff' },
  border: { display: false }
};
new Chart(addCanvas(0, 631, 2547, 145), {
  type: 'bar',
  data: {
    datasets: [
      series(macdSignal, maStep, '#ff2020', 1.5, [2, 2]),
      {
        type: 'bar', grouped: false, barThickness: 1,
        data: macdHist.map((v, i) => ({ x: i, y: v })),
        backgroundColor: '#d0d0d0'
      }
    ]
  },
  options: paneOptions(paneAxis(-0.708, 1.165, macdTicks, macdTickText, 123, false), timeAxis)
});

// ---------- tester: balance / equity ----------
const gridGrey = '#c8c8c8';
new Chart(addCanvas(17, 806, 2530, 320), {
  type: 'line',
  data: {
    datasets: [
      {
        data: balanceX.map((x, i) => ({ x: x, y: balanceY[i] })),
        borderColor: '#000080', borderWidth: 3, pointRadius: 0, tension: 0, fill: false
      },
      {
        data: equityX.map((x, i) => ({ x: x, y: equityY[i] })),
        borderColor: '#1f9a1f', borderWidth: 1, pointRadius: 0, tension: 0, fill: false
      }
    ]
  },
  options: {
    responsive: false, animation: false, events: [],
    layout: { padding: { left: 4, top: 8, right: 0, bottom: 12 } },
    plugins: { legend: { display: false }, tooltip: { enabled: false } },
    scales: {
      x: {
        type: 'linear', min: 0, max: 852, offset: false,
        afterBuildTicks(s) { s.ticks = dealTicks.map(v => ({ value: v })); },
        afterFit(s) { s.height = 0; s.paddingLeft = 0; s.paddingRight = 0; },
        ticks: { display: false },
        grid: { color: gridGrey, drawTicks: false },
        border: { display: false, dash: [4, 4] }
      },
      y: {
        position: 'right', min: 96765, max: 100959,
        afterBuildTicks(s) { s.ticks = equityTicks.map(v => ({ value: v })); },
        afterFit(s) { s.width = 52; s.paddingTop = 0; s.paddingBottom = 0; },
        ticks: { color: '#000', font: { family: 'Liberation Sans', size: 12 }, padding: 7, autoSkip: false, callback: v => String(v) },
        grid: { color: gridGrey, drawTicks: false },
        border: { display: false, dash: [4, 4] }
      }
    }
  }
});

// ---------- tester: lots ----------
new Chart(addCanvas(17, 1115, 2530, 93), {
  type: 'bar',
  data: {
    datasets: [{
      data: lotsX.map((x, i) => ({ x: x, y: lotsY[i] })),
      backgroundColor: '#1c9e1c', barThickness: 1, grouped: false
    }]
  },
  options: {
    responsive: false, animation: false, events: [],
    layout: { padding: { left: 4, top: 2, right: 52, bottom: 0 } },
    plugins: { legend: { display: false }, tooltip: { enabled: false } },
    scales: {
      x: {
        type: 'linear', min: 0, max: 852, offset: false,
        afterBuildTicks(s) { s.ticks = dealTicks.map(v => ({ value: v })); },
        afterFit(s) { s.height = 21; s.paddingLeft = 0; s.paddingRight = 0; },
        ticks: { color: '#000', font: { family: 'Liberation Sans', size: 12 }, align: 'end', autoSkip: false, maxRotation: 0, padding: 4, callback: v => String(v) },
        grid: { color: gridGrey, drawTicks: false, offset: false },
        border: { display: false, dash: [4, 4] }
      },
      y: { display: false, min: 0, max: 0.69 }
    }
  }
});
</script>
</body>
</html>
